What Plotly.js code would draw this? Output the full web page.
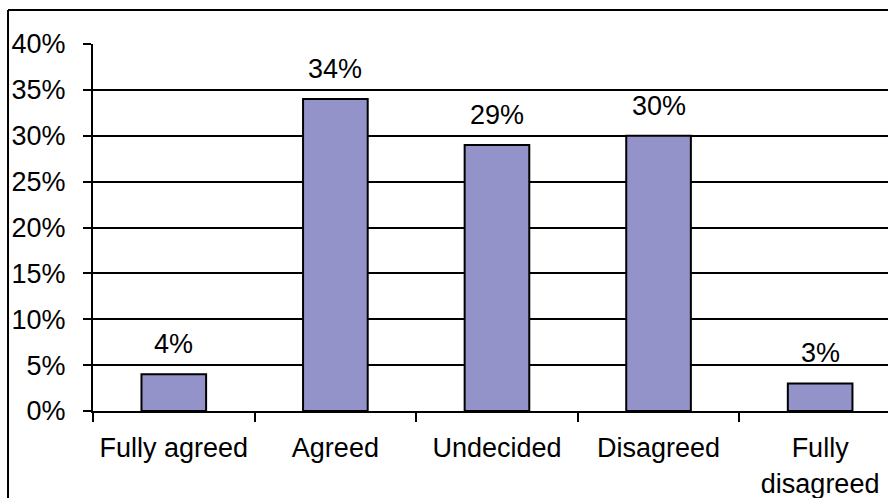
<!DOCTYPE html>
<html>
<head>
<meta charset="utf-8">
<script src="https://cdn.plot.ly/plotly-3.0.1.min.js"></script>
<style>
html,body{margin:0;padding:0;background:#fff;overflow:hidden;}
#chart{width:888px;height:498px;}
</style>
</head>
<body>
<div id="chart"></div>
<script>
var categories = ["Fully agreed", "Agreed", "Undecided", "Disagreed", "Fully<br>disagreed"];
var values = [4, 34, 29, 30, 3];
var valueLabels = ["4%", "34%", "29%", "30%", "3%"];
var yTickVals = [0, 5, 10, 15, 20, 25, 30, 35, 40];
var yTickText = ["0%", "5%", "10%", "15%", "20%", "25%", "30%", "35%", "40%"];

var FONT = "Liberation Sans, Arial, sans-serif";
var FS = 27;

var trace = {
  type: "bar",
  x: categories,
  y: values,
  marker: {color: "#9393c9", line: {color: "#000", width: 2}},
  hoverinfo: "skip"
};

var annotations = categories.map(function (c, i) {
  return {
    x: c, y: values[i], text: valueLabels[i],
    xref: "x", yref: "y",
    showarrow: false, yanchor: "bottom", yshift: 13,
    font: {family: FONT, size: FS, color: "#000"}
  };
});

// outer frame (left and top edges visible in the reference)
var shapes = [
  {type: "line", xref: "paper", yref: "paper", x0: -0.1069, x1: -0.1069, y0: 1.0926, y1: -0.4,
   line: {color: "#000", width: 2}},
  {type: "line", xref: "paper", yref: "paper", x0: -0.1069, x1: 1.2, y0: 1.0926, y1: 1.0926,
   line: {color: "#000", width: 2}}
];

var layout = {
  width: 888, height: 498,
  margin: {l: 93, r: 0, t: 44, b: 87, pad: 0},
  paper_bgcolor: "#fff", plot_bgcolor: "#fff",
  showlegend: false,
  bargap: 0.6,
  font: {family: FONT, size: FS, color: "#000"},
  xaxis: {
    type: "category",
    range: [-0.5, 4.42], autorange: false,
    showline: true, linecolor: "#000", linewidth: 2,
    mirror: false,
    ticks: "outside", tickson: "boundaries", ticklen: 9, tickwidth: 2, tickcolor: "#000",
    ticklabelstandoff: 12,
    showgrid: false, zeroline: false,
    tickfont: {family: FONT, size: FS, color: "#000"},
    fixedrange: true
  },
  yaxis: {
    range: [0, 40], autorange: false,
    tickvals: yTickVals, ticktext: yTickText,
    showline: true, linecolor: "#000", linewidth: 2,
    ticks: "outside", ticklen: 8, tickwidth: 2, tickcolor: "#000",
    ticklabelstandoff: 12,
    showgrid: true, gridcolor: "#000", gridwidth: 2,
    zeroline: false,
    tickfont: {family: FONT, size: FS, color: "#000"},
    fixedrange: true
  },
  annotations: annotations,
  shapes: shapes
};

Plotly.newPlot("chart", [trace], layout, {displayModeBar: false, staticPlot: true});
</script>
</body>
</html>
